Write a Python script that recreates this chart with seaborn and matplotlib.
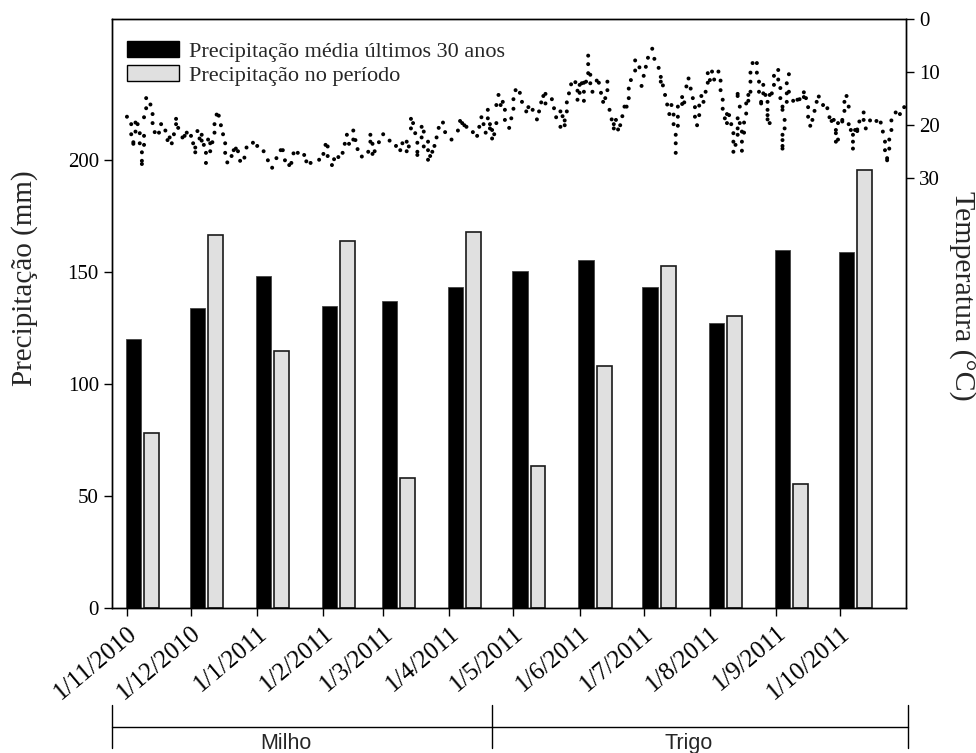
import numpy as np
import pandas as pd
import matplotlib
matplotlib.use("Agg")
import matplotlib.pyplot as plt
import matplotlib.transforms as mtransforms
from matplotlib.lines import Line2D
from matplotlib.patches import Patch
import seaborn as sns

# ---------------- data ----------------
month_labels = ["1/11/2010", "1/12/2010", "1/1/2011", "1/2/2011", "1/3/2011", "1/4/2011",
                "1/5/2011", "1/6/2011", "1/7/2011", "1/8/2011", "1/9/2011", "1/10/2011"]
month_dates = ["2010-11-01", "2010-12-01", "2011-01-01", "2011-02-01", "2011-03-01", "2011-04-01",
               "2011-05-01", "2011-06-01", "2011-07-01", "2011-08-01", "2011-09-01", "2011-10-01"]
precip_normal = [120, 134, 148, 135, 137, 143.5, 150.5, 155.5, 143.5, 127, 160, 159]   # média 30 anos
precip_period = [78, 166.5, 114.5, 164, 58, 168, 63.5, 108, 152.5, 130.5, 55.5, 195.5]  # no período

# daily mean temperature (day offset from 1/11/2010, °C)
temp_day_a = [0, 2, 2, 3, 3, 4, 4, 5, 6, 6, 7, 7, 7, 8, 8, 8, 9, 9, 11, 12, 12, 13, 15, 16, 18, 19,
              20, 21, 22, 23, 23, 24, 26, 27, 28, 30, 31, 32, 32, 33, 34, 35, 35, 36, 37, 37, 38, 39,
              39, 40, 41, 41, 42, 43, 44, 45, 46, 46, 47, 49, 50, 51, 52, 53, 55, 56, 59, 61, 64, 66,
              68, 70, 72, 73, 74, 76, 77, 78, 80, 83, 84, 86]
temp_c_a = [18.4, 19.8, 21.7, 23.5, 23.2, 19.5, 21.2, 19.8, 23.4, 21.5, 25.1, 26.7, 27.3, 22.0, 23.7,
            18.5, 16.8, 14.9, 16.1, 17.9, 19.6, 21.3, 21.4, 19.8, 21.0, 22.8, 22.3, 23.4, 21.7, 19.8,
            18.8, 20.5, 22.3, 22.0, 21.4, 22.0, 23.4, 24.2, 25.1, 21.1, 22.5, 22.9, 21.8, 23.7, 27.1,
            25.2, 22.7, 23.4, 24.9, 23.2, 21.4, 19.8, 18.0, 18.2, 20.0, 21.7, 23.4, 25.2, 27.0, 25.8,
            24.7, 24.4, 24.9, 26.7, 26.1, 24.2, 23.3, 23.9, 24.9, 26.6, 28.0, 26.2, 24.7, 24.7, 26.6,
            27.5, 27.1, 25.3, 25.2, 25.6, 26.8, 27.1]
temp_day_b = [90, 92, 93, 94, 94, 96, 97, 99, 101, 102, 103, 104, 106, 106, 107, 108, 110, 113, 114,
              114, 115, 115, 116, 118, 120, 123, 126, 128, 129, 131, 131, 132, 133, 133, 134, 135, 136,
              136, 136, 138, 138, 139, 139, 141, 141, 141, 142, 143, 144, 145, 146, 148, 149, 152, 155,
              156, 157, 158, 159, 162, 164, 165, 166, 167, 168, 169, 169, 170, 170, 171, 171, 172, 173,
              173, 174]
temp_c_b = [26.5, 25.4, 23.7, 24.0, 25.8, 27.5, 26.4, 26.0, 25.2, 23.5, 21.8, 23.5, 21.0, 22.7, 22.8,
            24.5, 25.9, 25.0, 21.8, 23.1, 23.5, 25.4, 24.9, 23.2, 21.7, 22.9, 23.9, 24.7, 23.4, 24.9,
            23.1, 24.0, 20.6, 18.8, 19.6, 21.5, 23.3, 25.0, 25.6, 22.3, 20.3, 24.0, 21.2, 23.1, 24.7,
            26.5, 25.8, 25.0, 23.9, 22.3, 20.5, 19.5, 21.3, 22.7, 21.0, 19.2, 19.6, 20.0, 20.3, 21.3,
            22.0, 20.3, 18.5, 19.8, 21.4, 17.1, 18.7, 19.8, 20.6, 22.5, 20.9, 21.7, 19.6, 16.2, 14.3]
temp_day_c = [175, 176, 177, 177, 179, 180, 181, 181, 182, 184, 185, 187, 188, 190, 192, 193, 194, 195,
              196, 196, 199, 200, 201, 203, 203, 204, 205, 205, 206, 206, 207, 208, 210, 211, 211, 212,
              212, 213, 214, 214, 214, 215, 216, 216, 216, 217, 217, 218, 220, 221, 222, 223, 224, 225,
              225, 226, 227, 228, 228, 229, 230, 231, 232, 233, 234, 235, 235, 236, 238, 238, 240, 241,
              242, 243, 244, 246, 247, 249, 250, 250, 251, 252, 253, 254, 255, 256, 256, 257, 257, 257,
              258, 258, 258, 260, 260, 261, 262, 263, 264, 265, 266, 266, 267, 268, 268, 269, 270, 271,
              272, 272]
temp_c_c = [16.2, 15.6, 17.1, 19.0, 20.5, 18.7, 16.9, 15.1, 13.4, 13.9, 15.6, 17.4, 16.6, 17.1, 18.9,
            17.4, 15.7, 14.5, 14.1, 15.9, 15.1, 16.8, 18.5, 20.3, 17.4, 18.3, 19.1, 20.0, 17.4, 15.7,
            14.0, 12.3, 11.9, 13.5, 15.2, 13.9, 12.4, 12.1, 13.7, 15.4, 12.0, 11.8, 10.2, 8.5, 6.9,
            10.5, 12.1, 13.7, 11.6, 12.0, 13.9, 15.6, 14.9, 11.8, 13.4, 17.1, 18.9, 19.8, 20.6, 19.0,
            20.8, 20.0, 18.3, 16.5, 16.5, 14.9, 13.1, 11.5, 7.8, 9.7, 9.1, 12.6, 10.7, 9.0, 7.3, 5.6,
            7.5, 9.2, 10.9, 11.8, 12.5, 14.3, 16.1, 17.9, 16.2, 18.0, 19.8, 21.8, 23.4, 25.2, 20.1,
            18.4, 16.5, 14.7, 16.0, 15.7, 12.7, 11.2, 13.1, 14.9, 16.6, 18.4, 20.0, 18.1, 16.3, 14.5,
            15.6, 13.7, 12.0, 10.2]
temp_day_d = [273, 274, 275, 277, 278, 278, 279, 279, 280, 281, 281, 282, 283, 284, 284, 284, 285, 286,
              286, 286, 287, 286, 286, 287, 288, 288, 288, 289, 289, 290, 290, 291, 291, 292, 292, 292,
              293, 295, 295, 296, 296, 297, 297, 298, 298, 299, 300, 300, 300, 301, 300, 301, 302, 303,
              303, 305, 305, 306, 306, 307, 307, 308, 308, 307, 307, 307, 307, 309, 309, 309, 310, 310,
              312, 314, 315, 317, 317, 318, 319, 319, 320, 321, 322, 323, 324, 326, 328, 329, 330, 331,
              332, 332, 333, 332, 333, 335, 335, 336, 336, 337, 338, 338, 339, 340, 340, 340, 341, 342,
              342, 343, 345, 345, 346, 348, 351, 353, 354, 355, 355, 356, 356, 357, 357, 358, 358, 360,
              362, 364]
temp_c_d = [11.5, 9.9, 11.4, 9.9, 11.6, 13.4, 15.2, 16.9, 18.7, 19.6, 17.9, 18.1, 19.8, 21.5, 23.1,
            25.0, 23.7, 21.8, 20.6, 18.7, 16.5, 14.5, 14.1, 19.6, 21.2, 23.1, 24.8, 21.4, 19.5, 17.8,
            15.9, 14.3, 15.4, 13.7, 11.8, 10.1, 8.3, 8.3, 10.1, 11.8, 13.7, 15.6, 15.9, 14.0, 12.4,
            14.3, 15.6, 17.1, 18.1, 19.6, 18.9, 14.3, 14.0, 12.4, 10.7, 9.6, 11.4, 13.0, 14.9, 16.5,
            17.1, 19.0, 20.6, 21.8, 22.8, 23.9, 24.4, 15.6, 14.0, 12.1, 10.4, 13.7, 15.4, 15.2, 15.1,
            14.7, 13.8, 14.9, 16.6, 18.4, 20.1, 19.0, 17.3, 15.6, 14.6, 16.2, 16.8, 18.5, 19.2, 19.0,
            20.9, 21.5, 22.7, 23.1, 19.6, 19.3, 19.0, 17.3, 15.6, 14.5, 16.5, 19.8, 20.9, 21.8, 23.1,
            24.4, 20.9, 20.8, 21.1, 19.3, 17.6, 19.0, 20.6, 19.1, 19.2, 19.5, 21.2, 23.1, 24.7, 26.2,
            26.6, 24.4, 22.7, 20.9, 19.1, 17.6, 17.9, 16.6]

crop_labels = ["Milho", "Trigo"]
legend_labels = ["Precipitação média últimos 30 anos", "Precipitação no período"]

# ---------------- style ----------------
sns.set_style("ticks")
plt.rcParams["font.family"] = ["Liberation Serif", "DejaVu Serif"]
plt.rcParams["axes.linewidth"] = 1.0
plt.rcParams["xtick.major.width"] = 1.0
plt.rcParams["ytick.major.width"] = 1.0
plt.rcParams["xtick.major.size"] = 6
plt.rcParams["ytick.major.size"] = 6
plt.rcParams["xtick.color"] = "black"
plt.rcParams["ytick.color"] = "black"
plt.rcParams["axes.edgecolor"] = "black"

origin = pd.Timestamp("2010-11-01")
month_x = (pd.to_datetime(month_dates) - origin).days.values.astype(float)

temp_df = pd.DataFrame({
    "day": temp_day_a + temp_day_b + temp_day_c + temp_day_d,
    "temp": temp_c_a + temp_c_b + temp_c_c + temp_c_d,
})

fig = plt.figure(figsize=(9.76, 7.53), dpi=100)
ax = fig.add_axes([112 / 976, 1 - 608 / 753, (905.7 - 112) / 976, (608 - 19) / 753])

black_c = "#000000"
gray_c = "#e0e0e0"
ax.bar(month_x - 0.6, precip_normal, width=7.2, align="edge", color=black_c,
       edgecolor="#444444", linewidth=0.6, zorder=2)
ax.bar(month_x + 8.0, precip_period, width=7.0, align="edge", color=gray_c,
       edgecolor="#1a1a1a", linewidth=1.2, zorder=2)

ax.set_xlim(-7.0, 364.7)
ax.set_ylim(0, 262.9)
ax.set_yticks([0, 50, 100, 150, 200])
ax.set_xticks(month_x)
ax.set_xticklabels(month_labels, rotation=40, ha="right", rotation_mode="anchor", fontsize=18)
ax.tick_params(axis="y", labelsize=15)
ax.tick_params(axis="x", pad=4)
ax.set_ylabel("Precipitação (mm)", fontsize=21, ha="center", va="center")
ax.yaxis.set_label_coords(-0.1096, 0.56)
for s in ax.spines.values():
    s.set_visible(True)

ax2 = ax.twinx()
sns.scatterplot(data=temp_df, x="day", y="temp", ax=ax2, color="black", s=8,
                edgecolor="none", linewidth=0, legend=False, zorder=3)
ax2.set_ylim(110.9, 0)
ax2.set_xlim(-7.0, 364.7)
ax2.set_yticks([0, 10, 20, 30])
ax2.tick_params(axis="y", labelsize=15)
ax2.set_xlabel("")
ax2.set_ylabel("Temperatura (°C)", fontsize=21.5, rotation=270, ha="center", va="center")
ax2.yaxis.set_label_coords(1.0715, 0.53)
for s in ax2.spines.values():
    s.set_visible(True)

handles = [Patch(facecolor=black_c, edgecolor="black", linewidth=1.0),
           Patch(facecolor=gray_c, edgecolor="black", linewidth=1.0)]
ax2.legend(handles, legend_labels, loc="upper left", bbox_to_anchor=(0.0185, 0.962),
           frameon=False, fontsize=16, borderpad=0, borderaxespad=0, handlelength=2.35,
           handleheight=0.7, handletextpad=0.45, labelspacing=0.16)

# crop period bracket below the axis
tr = mtransforms.blended_transform_factory(ax.transAxes, fig.transFigure)
y_line = 1 - 727 / 753
y_top = 1 - 705 / 753
y_bot = 1 - 748 / 753
x_left, x_mid, x_right = 0.0, (492 - 112) / 793.7, 1.003
fig.add_artist(Line2D([x_left, x_right], [y_line, y_line], transform=tr, color="black", lw=1.0))
for xv in (x_left, x_mid, x_right):
    fig.add_artist(Line2D([xv, xv], [y_top, y_bot], transform=tr, color="black", lw=1.0))
fig.text((286 - 112) / 793.7, 1 - 733 / 753, crop_labels[0], transform=tr, ha="center", va="top",
         fontsize=15.5, family=["Liberation Sans", "DejaVu Sans"])
fig.text((689 - 112) / 793.7, 1 - 733 / 753, crop_labels[1], transform=tr, ha="center", va="top",
         fontsize=15.5, family=["Liberation Sans", "DejaVu Sans"])

fig.savefig("out.png", dpi=100)
